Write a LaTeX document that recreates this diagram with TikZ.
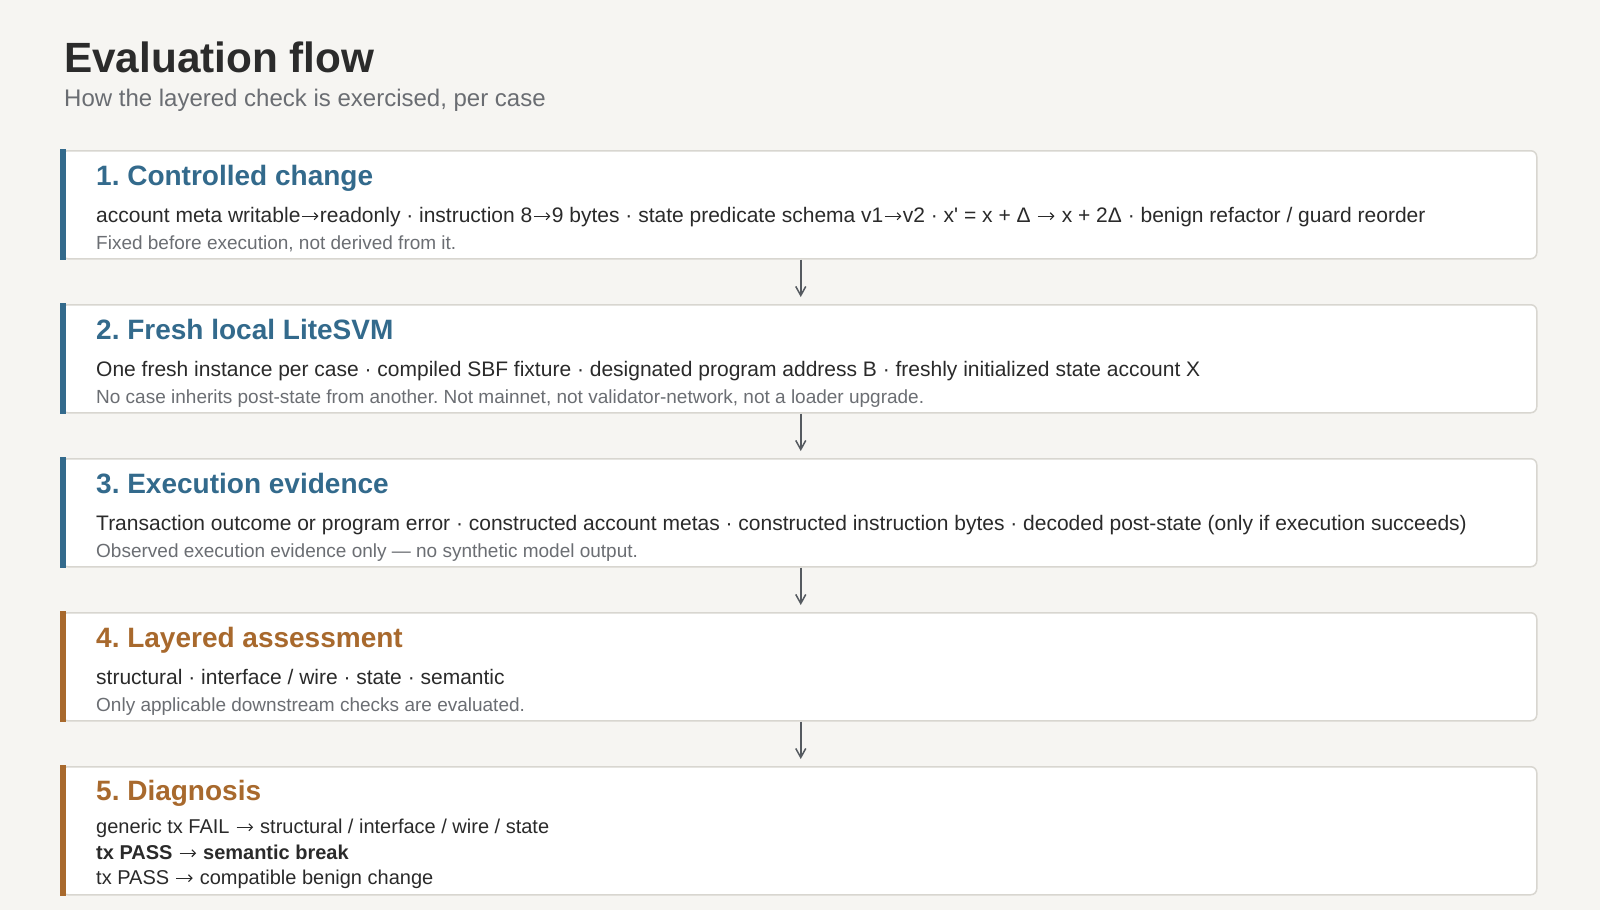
\documentclass[tikz,border=0pt]{standalone}
\usepackage{fontspec}
\setmainfont{Liberation Sans}
\newfontfamily\rawsans{Liberation Sans}[Ligatures=TeXOff]
\usetikzlibrary{arrows.meta}
\newcommand\myarr{\tikz[baseline=0pt, x=1pt, y=1pt]{\path (0,0) (19.5,0); \draw[line width=1.1pt, -{Straight Barb[length=3.5pt,width=7pt,line width=1.1pt]}] (1.5,5.8) -- (18,5.8);}}
\definecolor{bgc}{HTML}{F6F5F2}
\definecolor{titlec}{HTML}{2B2B2B}
\definecolor{subc}{HTML}{6A6D72}
\definecolor{bodyc}{HTML}{2A2A2A}
\definecolor{notec}{HTML}{6B6E73}
\definecolor{bluec}{HTML}{336A8C}
\definecolor{orangec}{HTML}{A8692D}
\definecolor{borderc}{HTML}{D8D6D0}
\definecolor{arrowc}{HTML}{555A60}
\tikzset{
  card/.style={draw=borderc, line width=1.5pt, fill=white, rounded corners=6pt, anchor=north west, minimum width=1475pt, inner sep=0pt},
  txt/.style={anchor=base west, inner sep=0pt},
  headb/.style={txt, font=\fontsize{28}{33}\selectfont\bfseries, text=bluec},
  heado/.style={txt, font=\fontsize{28}{33}\selectfont\bfseries, text=orangec},
  bodyt/.style={txt, font=\fontsize{21}{25}\selectfont, text=bodyc},
  diagt/.style={txt, font=\fontsize{20}{24}\selectfont, text=bodyc},
  notet/.style={txt, font=\fontsize{19}{22}\selectfont, text=notec},
  flowarr/.style={draw=arrowc, line width=1.5pt, -{Straight Barb[length=9pt,width=10pt,line width=1.5pt]}},
}
\begin{document}
\frenchspacing
\begin{tikzpicture}[x=1pt,y=-1pt]
\useasboundingbox (0,0) rectangle (1600,910);
\fill[bgc] (0,0) rectangle (1600,910);
\node[txt, font=\fontsize{42.3}{48}\selectfont\bfseries, text=titlec] (title) at (64,72) {Evaluation flow};
\node[txt, font=\fontsize{24}{28}\selectfont, text=subc] (sub) at (64,106) {How the layered check is exercised, per case};
% cards
\node[card, minimum height=108pt] (b1) at (61,150) {};
\node[card, minimum height=108pt] (b2) at (61,304) {};
\node[card, minimum height=108pt] (b3) at (61,458) {};
\node[card, minimum height=108pt] (b4) at (61,612) {};
\node[card, minimum height=128pt] (b5) at (61,766) {};
% bars
\fill[bluec] ([xshift=-0.75pt,yshift=0.75pt]b1.north west) rectangle ([xshift=5pt,yshift=-0.75pt]b1.south west);
\fill[bluec] ([xshift=-0.75pt,yshift=0.75pt]b2.north west) rectangle ([xshift=5pt,yshift=-0.75pt]b2.south west);
\fill[bluec] ([xshift=-0.75pt,yshift=0.75pt]b3.north west) rectangle ([xshift=5pt,yshift=-0.75pt]b3.south west);
\fill[orangec] ([xshift=-0.75pt,yshift=0.75pt]b4.north west) rectangle ([xshift=5pt,yshift=-0.75pt]b4.south west);
\fill[orangec] ([xshift=-0.75pt,yshift=0.75pt]b5.north west) rectangle ([xshift=5pt,yshift=-0.75pt]b5.south west);
% card 1
\node[headb] (h1) at (96,185) {1. Controlled change};
\node[bodyt] (t1) at (96,222) {account meta writable\myarr readonly · instruction 8\myarr 9 bytes · state predicate schema v1\myarr v2 · x{\rawsans '} = x + Δ \myarr{} x + 2Δ · benign refactor / guard reorder};
\node[notet] (n1) at (96,249) {Fixed before execution, not derived from it.};
% card 2
\node[headb] (h2) at (96,339) {2. Fresh local LiteSVM};
\node[bodyt] (t2) at (96,376) {One fresh instance per case · compiled SBF fixture · designated program address B · freshly initialized state account X};
\node[notet] (n2) at (96,403) {No case inherits post-state from another. Not mainnet, not validator-network, not a loader upgrade.};
% card 3
\node[headb] (h3) at (96,493) {3. Execution evidence};
\node[bodyt] (t3) at (96,530) {Transaction outcome or program error · constructed account metas · constructed instruction bytes · decoded post-state (only if execution succeeds)};
\node[notet] (n3) at (96,557) {Observed execution evidence only — no synthetic model output.};
% card 4
\node[heado] (h4) at (96,647) {4. Layered assessment};
\node[bodyt] (t4) at (96,684) {structural · interface / wire · state · semantic};
\node[notet] (n4) at (96,711) {Only applicable downstream checks are evaluated.};
% card 5
\node[heado] (h5) at (96,800) {5. Diagnosis};
\node[diagt] (t5a) at (96,833) {generic tx FAIL \myarr{} structural / interface / wire / state};
\node[diagt, font=\fontsize{20}{24}\selectfont\bfseries] (t5b) at (96,859) {tx PASS \myarr{} semantic break};
\node[diagt] (t5c) at (96,884) {tx PASS \myarr{} compatible benign change};
% arrows
\draw[flowarr] ([xshift=1.5pt]b1.south) -- ([xshift=1.5pt,yshift=7pt]b2.north);
\draw[flowarr] ([xshift=1.5pt]b2.south) -- ([xshift=1.5pt,yshift=7pt]b3.north);
\draw[flowarr] ([xshift=1.5pt]b3.south) -- ([xshift=1.5pt,yshift=7pt]b4.north);
\draw[flowarr] ([xshift=1.5pt]b4.south) -- ([xshift=1.5pt,yshift=7pt]b5.north);
\end{tikzpicture}
\end{document}
